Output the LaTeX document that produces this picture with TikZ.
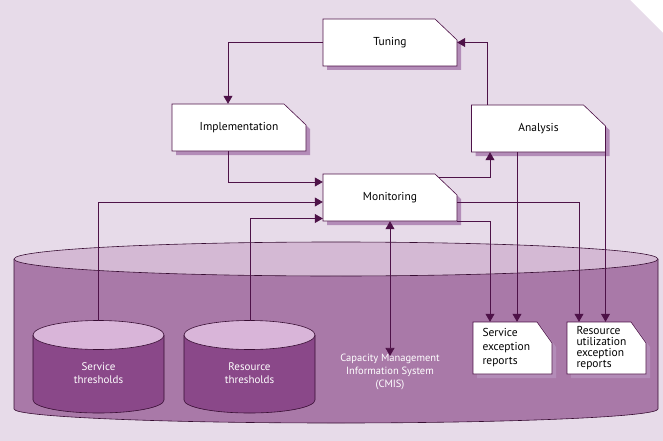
\documentclass[tikz,border=0pt]{standalone}
\usepackage{fontspec}
\setmainfont{PT Sans}
\usetikzlibrary{shadows,arrows.meta}

\definecolor{bgpurple}{HTML}{E7DBE9}
\definecolor{linepurple}{HTML}{4E1248}
\definecolor{cmisbody}{HTML}{A979A8}
\definecolor{cmistop}{HTML}{D4B9D4}
\definecolor{dbbody}{HTML}{8A4889}
\definecolor{dbtop}{HTML}{D9B5D9}
\definecolor{shadowpurple}{HTML}{B38CB8}

\tikzset{%
  note box/.style={
    draw=linepurple,
    fill=white,
    line width=0.6pt,
    drop shadow={shadow xshift=4pt, shadow yshift=-4pt, fill=shadowpurple, opacity=1}
  },
  note text/.style={
    inner sep=0pt,
    minimum width=134pt,
    minimum height=47pt,
    font=\fontsize{11.5}{13}\selectfont
  },
  report text/.style={
    inner sep=0pt,
    minimum height=52pt,
    text width=60pt,
    align=left
  },
  store/.style={
    draw=linepurple!70!black,
    line width=0.6pt
  },
  db label/.style={
    text=white,
    align=center,
    font=\fontsize{11}{13}\selectfont
  },
  flow/.style={
    draw=linepurple,
    line width=0.8pt,
    -{Triangle[length=8pt,width=9pt]}
  },
}

\begin{document}
\begin{tikzpicture}[x=1pt,y=-1pt]
  \useasboundingbox (0,0) rectangle (663,441);
  \fill [bgpurple] (0,0) -- (630,0) -- (663,33) -- (663,441) -- (0,441) -- cycle;
  % CMIS store
  \filldraw [store, fill=cmisbody]
    (14,259) -- (14,409) arc [start angle=180, end angle=360, x radius=322pt, y radius=14pt] -- (658,259);
  \filldraw [store, fill=cmistop] (336,259) ellipse [x radius=322pt, y radius=17pt];
  % thresholds
  \filldraw [store, fill=dbbody]
    (33,335) -- (33,400) arc [start angle=180, end angle=360, x radius=65.5pt, y radius=13pt] -- (164,335);
  \filldraw [store, fill=dbtop] (98.5,335) ellipse [x radius=65.5pt, y radius=14.5pt];
  \filldraw [store, fill=dbbody]
    (184,335) -- (184,400) arc [start angle=180, end angle=360, x radius=65.5pt, y radius=13pt] -- (315,335);
  \filldraw [store, fill=dbtop] (249.5,335) ellipse [x radius=65.5pt, y radius=14.5pt];
  \coordinate (st) at (98,320.5);
  \coordinate (rt) at (250,320.5);
  \node [db label] (stl) at (98.5,373) {Service\\thresholds};
  \node [db label] (rtl) at (249.5,373) {Resource\\thresholds};
  \node [db label, inner sep=0pt, font=\fontsize{10.5}{13}\selectfont] (cmis) at (390,372) {Capacity Management\\Information System\\(CMIS)};

  % process boxes
  \filldraw [note box] (390,42.5) ++(-67,-23.5) -- ++(112,0) -- ++(22,21) -- ++(0,26) -- ++(-134,0) -- cycle;
  \node [note text] (tun) at (390,42.5) {Tuning};
  \filldraw [note box] (239,127.5) ++(-67,-23.5) -- ++(112,0) -- ++(22,21) -- ++(0,26) -- ++(-134,0) -- cycle;
  \node [note text] (imp) at (239,127.5) {Implementation};
  \filldraw [note box] (538.5,128.5) ++(-67,-23.5) -- ++(112,0) -- ++(22,21) -- ++(0,26) -- ++(-134,0) -- cycle;
  \node [note text] (ana) at (538.5,128.5) {Analysis};
  \filldraw [note box] (390,197.5) ++(-67,-23.5) -- ++(112,0) -- ++(22,21) -- ++(0,26) -- ++(-134,0) -- cycle;
  \node [note text] (mon) at (390,197.5) {Monitoring};
  % reports
  \filldraw [note box] (512.5,348) ++(-39.5,-26) -- ++(64,0) -- ++(15,21) -- ++(0,31) -- ++(-79,0) -- cycle;
  \node [report text, font=\fontsize{11.5}{14}\selectfont] (ser) at (512.5,348) {Service\\exception\\reports};
  \filldraw [note box] (606.5,348) ++(-39.5,-26) -- ++(64,0) -- ++(15,21) -- ++(0,31) -- ++(-79,0) -- cycle;
  \node [report text, font=\fontsize{11.5}{11}\selectfont] (rur) at (606.5,348) {Resource\\utilization\\exception\\reports};

  \draw [flow] (tun.west) -| ([xshift=-11pt]imp.north);
  \draw [flow] ([xshift=-11pt]imp.south) |- ([yshift=15.5pt]mon.west);
  \draw [flow] (st) |- ([yshift=-4.5pt]mon.west);
  \draw [flow] (rt) |- ([yshift=-21pt]mon.west);
  \draw [flow, {Triangle[length=8pt,width=9pt]}-{Triangle[length=8pt,width=9pt]}] (mon.south) -- ([yshift=-2pt]cmis.north);
  \draw [flow] ([xshift=49pt,yshift=-4pt]mon.north) -| ([xshift=-48.5pt]ana.south);
  \draw [flow] ([xshift=-51pt]ana.north) |- (tun.east);
  \draw [flow] ([yshift=-4.5pt]mon.east) -| ([xshift=-27.5pt]rur.north);
  \draw [flow] ([yshift=-23.5pt]mon.east) -| ([xshift=-22.5pt]ser.north);
  \draw [flow] ([xshift=-21.5pt]ana.south) -- ([xshift=4.5pt]ser.north);
  \draw [flow] ([xshift=67pt]ana.south) -- ([xshift=-1pt]rur.north);
\end{tikzpicture}
\end{document}
